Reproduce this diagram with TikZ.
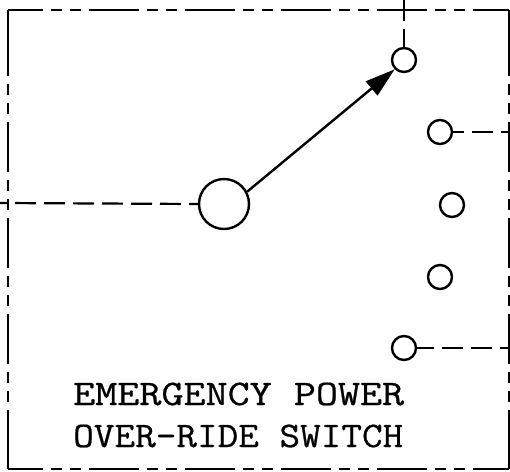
\documentclass[tikz,border=0pt]{standalone}
\usepackage{fontspec}
\usetikzlibrary{arrows.meta}
\newfontfamily\platefont[FakeBold=0.6]{Latin Modern Mono}
\tikzset{>={Triangle[length=30pt, width=18pt]}}
\tikzset{contact/.style={circle, draw, line width=2.4pt, inner sep=0pt, minimum size=24pt}}
\tikzset{wire/.style={line width=2.2pt, dash pattern=on 21pt off 8pt}}
\tikzset{edgeline/.style={line width=2.5pt, dash pattern=on 50pt off 8pt on 11pt off 8pt on 11pt off 8pt}}
\tikzset{plate/.style={anchor=base west, inner sep=0pt, font=\platefont\fontsize{36pt}{36pt}\selectfont, transform shape, xscale=1.19}}

\begin{document}
\begin{tikzpicture}[x=1pt, y=-1pt]
    \useasboundingbox(0, 0)rectangle(510, 471);
    \coordinate (tl) at (8, 10);
    \coordinate (tr) at (509, 10);
    \coordinate (bl) at (8, 469);
    \coordinate (br) at (509, 469);
    % outer box
    \draw[edgeline, dash phase=15pt](tl)--(tr);
    \draw[edgeline, dash phase=15pt](bl)--(br);
    \draw[edgeline, dash phase=80pt](tl)--(bl);
    \draw[edgeline, dash phase=80pt](tr)--(br);
    \draw[line width=2.5pt](8, 30)--(tl);
    \draw[line width=2.5pt](8, 458)--(bl);
    \draw[line width=2.5pt](509, 30)--(tr);
    \draw[line width=2.5pt](509, 458)--(br);
    % contacts
    \node[contact, minimum size=50pt] (hub) at (224, 204) {};
    \node[contact] (c1) at (404, 60) {};
    \node[contact] (c2) at (440, 132) {};
    \node[contact] (c3) at (452, 205) {};
    \node[contact] (c4) at (440, 277) {};
    \node[contact] (c5) at (404, 348) {};
    % wires
    \coordinate (wl) at (0, 203);
    \coordinate (wt) at (404, 0);
    \coordinate (wr2) at (510, 132);
    \coordinate (wr5) at (510, 348);
    \draw[wire, dash phase=14pt](wl)--(hub.west);
    \draw[wire](wt)--(c1.north);
    \draw[wire, dash phase=10pt](c2.east)--(wr2);
    \draw[wire, dash phase=4pt](c5.east)--(wr5);
    % switch arm
    \draw[->, line width=2.4pt](hub.28)--(c1.225);
    % label
    \node[plate] (lbla) at (73, 405) {EMERGENCY POWER};
    \node[plate, xscale=0.935] (lblb) at (73, 447) {OVER\textendash RIDE SWITCH};
\end{tikzpicture}
\end{document}
